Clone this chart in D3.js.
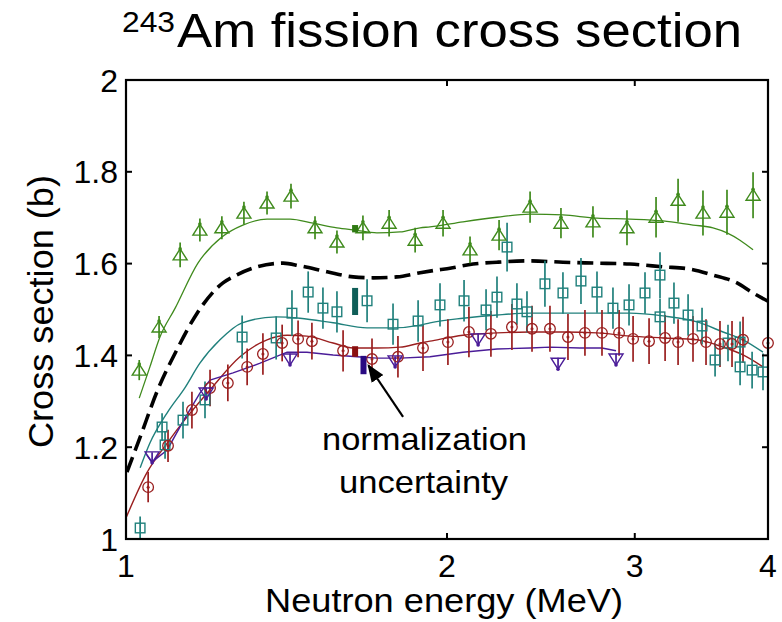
<!DOCTYPE html>
<html>
<head>
<meta charset="utf-8">
<script src="https://cdn.jsdelivr.net/npm/d3@7"></script>
<style>
  html, body { margin: 0; padding: 0; background: #fff; }
  svg { display: block; }
  text { font-family: "Liberation Sans", Arial, Helvetica, sans-serif; fill: #000; }
</style>
</head>
<body>
<svg id="chart" width="782" height="622"></svg>
<script>
// ---- axis ticks ----
const energyTicks = [1, 2, 3, 4];
const xsTicks = [1, 1.2, 1.4, 1.6, 1.8, 2];

// ---- measurement sets: energy (MeV), cross section (b), 1-sigma ----
const greenE   = [1.029, 1.074, 1.124, 1.173, 1.230, 1.290, 1.356, 1.428, 1.504, 1.577, 1.668, 1.765, 1.867, 1.983, 2.102, 2.238, 2.393, 2.558, 2.741, 2.950, 3.141, 3.294, 3.476, 3.661, 3.873];
const greenXS  = [1.368, 1.462, 1.619, 1.673, 1.678, 1.710, 1.732, 1.747, 1.678, 1.647, 1.678, 1.688, 1.651, 1.688, 1.630, 1.662, 1.723, 1.688, 1.691, 1.678, 1.701, 1.738, 1.710, 1.712, 1.749];
const greenErr = [0.022, 0.024, 0.027, 0.025, 0.025, 0.025, 0.025, 0.027, 0.025, 0.025, 0.027, 0.029, 0.027, 0.029, 0.029, 0.033, 0.034, 0.033, 0.034, 0.038, 0.044, 0.047, 0.049, 0.049, 0.050];

const tealE   = [1.031, 1.081, 1.088, 1.131, 1.186, 1.285, 1.383, 1.431, 1.482, 1.530, 1.577, 1.683, 1.780, 1.879, 1.970, 2.075, 2.176, 2.228, 2.277, 2.326, 2.377, 2.471, 2.569, 2.671, 2.765, 2.862, 2.963, 3.067, 3.168, 3.168, 3.265, 3.366, 3.469, 3.568, 3.669, 3.766, 3.766, 3.865, 3.957];
const tealXS  = [1.024, 1.244, 1.205, 1.259, 1.303, 1.440, 1.438, 1.492, 1.538, 1.503, 1.495, 1.519, 1.468, 1.475, 1.510, 1.519, 1.499, 1.527, 1.636, 1.512, 1.495, 1.556, 1.536, 1.562, 1.538, 1.503, 1.510, 1.536, 1.484, 1.575, 1.514, 1.488, 1.464, 1.390, 1.427, 1.429, 1.375, 1.368, 1.364];
const tealErr = [0.025, 0.030, 0.030, 0.040, 0.040, 0.047, 0.047, 0.050, 0.045, 0.045, 0.045, 0.047, 0.045, 0.045, 0.047, 0.045, 0.045, 0.045, 0.053, 0.045, 0.045, 0.050, 0.045, 0.050, 0.045, 0.045, 0.045, 0.045, 0.040, 0.050, 0.045, 0.045, 0.040, 0.036, 0.040, 0.045, 0.040, 0.040, 0.040];

const redE   = [1.049, 1.095, 1.153, 1.199, 1.246, 1.299, 1.344, 1.401, 1.450, 1.494, 1.598, 1.701, 1.799, 1.899, 2.004, 2.097, 2.199, 2.301, 2.403, 2.498, 2.597, 2.694, 2.795, 2.900, 2.989, 3.094, 3.203, 3.294, 3.402, 3.499, 3.606, 3.701, 3.790, 4.000];
const redXS  = [1.113, 1.203, 1.281, 1.329, 1.340, 1.375, 1.403, 1.427, 1.436, 1.431, 1.410, 1.392, 1.397, 1.416, 1.429, 1.451, 1.447, 1.462, 1.458, 1.458, 1.440, 1.449, 1.449, 1.449, 1.436, 1.431, 1.438, 1.429, 1.436, 1.429, 1.425, 1.425, 1.434, 1.427];
const redErr = [0.033, 0.035, 0.040, 0.040, 0.040, 0.040, 0.045, 0.040, 0.040, 0.040, 0.045, 0.045, 0.045, 0.050, 0.050, 0.055, 0.050, 0.050, 0.050, 0.050, 0.050, 0.050, 0.050, 0.050, 0.050, 0.050, 0.050, 0.050, 0.050, 0.050, 0.050, 0.050, 0.050, 0.050];

const purpleE   = [1.058, 1.189, 1.425, 1.788, 2.139, 2.542, 2.881];
const purpleXS  = [1.179, 1.318, 1.392, 1.388, 1.436, 1.383, 1.392];
const purpleErr = [0.010, 0.012, 0.012, 0.010, 0.012, 0.012, 0.012];

// ---- evaluated curves ----
const greenCurveE  = [1.029, 1.053, 1.076, 1.112, 1.168, 1.230, 1.287, 1.356, 1.425, 1.498, 1.577, 1.640, 1.719, 1.807, 1.887, 1.928, 2.070, 2.228, 2.393, 2.569, 2.765, 2.969, 3.189, 3.402, 3.552, 3.661, 3.765, 3.873];
const greenCurveXS = [1.307, 1.375, 1.440, 1.503, 1.601, 1.658, 1.684, 1.697, 1.697, 1.688, 1.678, 1.673, 1.667, 1.669, 1.678, 1.680, 1.691, 1.701, 1.708, 1.706, 1.699, 1.697, 1.693, 1.684, 1.678, 1.667, 1.651, 1.630];

const dashCurveE  = [1.002, 1.031, 1.071, 1.116, 1.166, 1.233, 1.260, 1.327, 1.404, 1.456, 1.544, 1.633, 1.705, 1.795, 1.887, 1.957, 2.013, 2.116, 2.228, 2.393, 2.569, 2.765, 2.969, 3.189, 3.380, 3.552, 3.741, 3.873, 4.000];
const dashCurveXS = [1.146, 1.222, 1.325, 1.412, 1.492, 1.558, 1.571, 1.593, 1.601, 1.595, 1.582, 1.571, 1.569, 1.571, 1.580, 1.586, 1.590, 1.599, 1.603, 1.606, 1.603, 1.601, 1.599, 1.593, 1.588, 1.575, 1.558, 1.536, 1.518];

const tealCurveE  = [1.031, 1.053, 1.093, 1.136, 1.173, 1.225, 1.285, 1.383, 1.456, 1.564, 1.683, 1.780, 1.887, 1.928, 2.070, 2.228, 2.393, 2.569, 2.765, 2.969, 3.189, 3.432, 3.630, 3.790, 3.957];
const tealCurveXS = [1.155, 1.209, 1.275, 1.330, 1.383, 1.434, 1.471, 1.484, 1.481, 1.471, 1.460, 1.460, 1.466, 1.471, 1.481, 1.488, 1.492, 1.492, 1.492, 1.492, 1.486, 1.473, 1.451, 1.434, 1.407];

const redCurveE  = [1.000, 1.046, 1.093, 1.141, 1.199, 1.279, 1.356, 1.416, 1.478, 1.564, 1.633, 1.719, 1.807, 1.887, 1.928, 2.070, 2.228, 2.393, 2.569, 2.765, 2.969, 3.189, 3.432, 3.630, 3.790, 3.957];
const redCurveXS = [1.046, 1.144, 1.209, 1.266, 1.325, 1.397, 1.434, 1.444, 1.442, 1.427, 1.416, 1.416, 1.418, 1.427, 1.431, 1.444, 1.449, 1.451, 1.451, 1.449, 1.442, 1.438, 1.434, 1.418, 1.401, 1.375];

const purpleCurveE  = [1.046, 1.058, 1.093, 1.136, 1.173, 1.199, 1.260, 1.336, 1.416, 1.478, 1.564, 1.647, 1.719, 1.807, 1.928, 2.070, 2.228, 2.393, 2.498, 2.665, 2.795, 2.881];
const purpleCurveXS = [1.183, 1.168, 1.194, 1.264, 1.318, 1.346, 1.362, 1.383, 1.407, 1.407, 1.401, 1.397, 1.394, 1.394, 1.397, 1.407, 1.414, 1.416, 1.418, 1.416, 1.416, 1.410];

// ---- normalization uncertainty bands: energy, low, high ----
const normE    = [1.640, 1.640, 1.640, 1.670];
const normLow  = [1.668, 1.488, 1.397, 1.359];
const normHigh = [1.684, 1.547, 1.420, 1.399];

const colors = { green: "#3f8a1c", teal: "#20807c", red: "#9a1f1f", purple: "#4a1c98", black: "#000" };
const normColors = ["#2f7a12", "#0f5e58", "#8a0f0f", "#2a0a82"];

// ---- layout ----
const svg = d3.select("#chart");
const M = { left: 126, top: 80, right: 768, bottom: 539 };
const x = d3.scaleLog().domain([1, 4]).range([M.left, M.right]);
const y = d3.scaleLinear().domain([1, 2]).range([M.bottom, M.top]);

const zip = (a, b) => a.map((v, i) => [v, b[i]]);
const smooth = d3.line().x(d => x(d[0])).y(d => y(d[1])).curve(d3.curveMonotoneX);
const straight = d3.line().x(d => x(d[0])).y(d => y(d[1]));

const plot = svg.append("g");

// curves
plot.append("path").attr("d", smooth(zip(greenCurveE, greenCurveXS)))
  .attr("fill", "none").attr("stroke", colors.green).attr("stroke-width", 1.3);
plot.append("path").attr("d", smooth(zip(tealCurveE, tealCurveXS)))
  .attr("fill", "none").attr("stroke", colors.teal).attr("stroke-width", 1.4);
plot.append("path").attr("d", smooth(zip(redCurveE, redCurveXS)))
  .attr("fill", "none").attr("stroke", colors.red).attr("stroke-width", 1.4);
plot.append("path").attr("d", straight(zip(purpleCurveE, purpleCurveXS)))
  .attr("fill", "none").attr("stroke", colors.purple).attr("stroke-width", 1.4);
plot.append("path").attr("d", smooth(zip(dashCurveE, dashCurveXS)))
  .attr("fill", "none").attr("stroke", colors.black).attr("stroke-width", 3.6)
  .attr("stroke-dasharray", "16,7");

// error bars
function errorBars(E, V, Err, color) {
  plot.append("g").selectAll("line").data(E).join("line")
    .attr("x1", d => x(d)).attr("x2", d => x(d))
    .attr("y1", (d, i) => y(V[i] - Err[i])).attr("y2", (d, i) => y(V[i] + Err[i]))
    .attr("stroke", color).attr("stroke-width", 1.7);
}
errorBars(greenE, greenXS, greenErr, colors.green);
errorBars(tealE, tealXS, tealErr, colors.teal);
errorBars(redE, redXS, redErr, colors.red);
errorBars(purpleE, purpleXS, purpleErr, colors.purple);

// markers
const gGreen = plot.append("g");
greenE.forEach((e, i) => {
  const cx = x(e), cy = y(greenXS[i]);
  gGreen.append("path")
    .attr("d", `M${cx},${cy - 6}L${cx + 7},${cy + 5}L${cx - 7},${cy + 5}Z`)
    .attr("fill", "none").attr("stroke", colors.green).attr("stroke-width", 1.4);
  gGreen.append("circle").attr("cx", cx).attr("cy", cy - 6).attr("r", 1.8).attr("fill", colors.green);
});

const gTeal = plot.append("g");
tealE.forEach((e, i) => {
  gTeal.append("rect").attr("x", x(e) - 4.8).attr("y", y(tealXS[i]) - 4.8)
    .attr("width", 9.6).attr("height", 9.6)
    .attr("fill", "none").attr("stroke", colors.teal).attr("stroke-width", 1.4);
});

const gRed = plot.append("g");
redE.forEach((e, i) => {
  gRed.append("circle").attr("cx", x(e)).attr("cy", y(redXS[i])).attr("r", 5.3)
    .attr("fill", "none").attr("stroke", colors.red).attr("stroke-width", 1.3);
  gRed.append("circle").attr("cx", x(e)).attr("cy", y(redXS[i])).attr("r", 1.5).attr("fill", colors.red);
});

const gPurple = plot.append("g");
purpleE.forEach((e, i) => {
  const cx = x(e), cy = y(purpleXS[i]);
  gPurple.append("path")
    .attr("d", `M${cx},${cy + 6}L${cx + 7},${cy - 5}L${cx - 7},${cy - 5}Z`)
    .attr("fill", "none").attr("stroke", colors.purple).attr("stroke-width", 1.4);
  gPurple.append("circle").attr("cx", cx).attr("cy", cy + 6).attr("r", 1.8).attr("fill", colors.purple);
});

// normalization uncertainty bars
plot.append("g").selectAll("rect").data(normE).join("rect")
  .attr("x", d => x(d) - 3).attr("width", 6)
  .attr("y", (d, i) => y(normHigh[i])).attr("height", (d, i) => y(normLow[i]) - y(normHigh[i]))
  .attr("fill", (d, i) => normColors[i]);

// frame with inward ticks on all sides
const frame = svg.append("g");
frame.append("rect").attr("x", M.left).attr("y", M.top)
  .attr("width", M.right - M.left).attr("height", M.bottom - M.top)
  .attr("fill", "none").attr("stroke", "#000").attr("stroke-width", 2.2);
const tk = 6;
energyTicks.forEach(t => {
  frame.append("line").attr("x1", x(t)).attr("x2", x(t)).attr("y1", M.bottom).attr("y2", M.bottom - tk)
    .attr("stroke", "#000").attr("stroke-width", 2);
  frame.append("line").attr("x1", x(t)).attr("x2", x(t)).attr("y1", M.top).attr("y2", M.top + tk)
    .attr("stroke", "#000").attr("stroke-width", 2);
  frame.append("text").attr("x", x(t)).attr("y", 577).attr("text-anchor", "middle")
    .attr("font-size", 32).text(t);
});
xsTicks.forEach(t => {
  frame.append("line").attr("x1", M.left).attr("x2", M.left + tk).attr("y1", y(t)).attr("y2", y(t))
    .attr("stroke", "#000").attr("stroke-width", 2);
  frame.append("line").attr("x1", M.right).attr("x2", M.right - tk).attr("y1", y(t)).attr("y2", y(t))
    .attr("stroke", "#000").attr("stroke-width", 2);
  frame.append("text").attr("x", 118).attr("y", y(t) + 11.5).attr("text-anchor", "end")
    .attr("font-size", 32).text(d3.format("~g")(t));
});

// axis titles
svg.append("text").attr("x", 265).attr("y", 612).attr("font-size", 33)
  .attr("textLength", 358).attr("lengthAdjust", "spacingAndGlyphs")
  .text("Neutron energy (MeV)");
svg.append("text").attr("transform", "translate(53,448) rotate(-90)")
  .attr("font-size", 35).attr("textLength", 273).attr("lengthAdjust", "spacingAndGlyphs")
  .text("Cross section (b)");

// title
const title = svg.append("text").attr("y", 47);
title.append("tspan").attr("x", 122).attr("y", 32).attr("font-size", 29)
  .attr("textLength", 53).attr("lengthAdjust", "spacingAndGlyphs").text("243");
title.append("tspan").attr("x", 177).attr("y", 47).attr("font-size", 48)
  .attr("textLength", 565).attr("lengthAdjust", "spacingAndGlyphs").text("Am fission cross section");

// annotation with arrow
const defs = svg.append("defs");
defs.append("marker").attr("id", "arrowhead").attr("viewBox", "0 0 10 10")
  .attr("refX", 9).attr("refY", 5).attr("markerWidth", 18).attr("markerHeight", 14)
  .attr("markerUnits", "userSpaceOnUse").attr("orient", "auto")
  .attr("preserveAspectRatio", "none")
  .append("path").attr("d", "M0,0L10,5L0,10Z").attr("fill", "#000");
svg.append("line")
  .attr("x1", x(1.819)).attr("y1", y(1.266)).attr("x2", x(1.688)).attr("y2", y(1.378))
  .attr("stroke", "#000").attr("stroke-width", 2.2).attr("marker-end", "url(#arrowhead)");

svg.append("text").attr("x", 322).attr("y", 450).attr("font-size", 32)
  .attr("textLength", 205).attr("lengthAdjust", "spacingAndGlyphs").text("normalization");
svg.append("text").attr("x", 339).attr("y", 493).attr("font-size", 32)
  .attr("textLength", 169).attr("lengthAdjust", "spacingAndGlyphs").text("uncertainty");
</script>
</body>
</html>
